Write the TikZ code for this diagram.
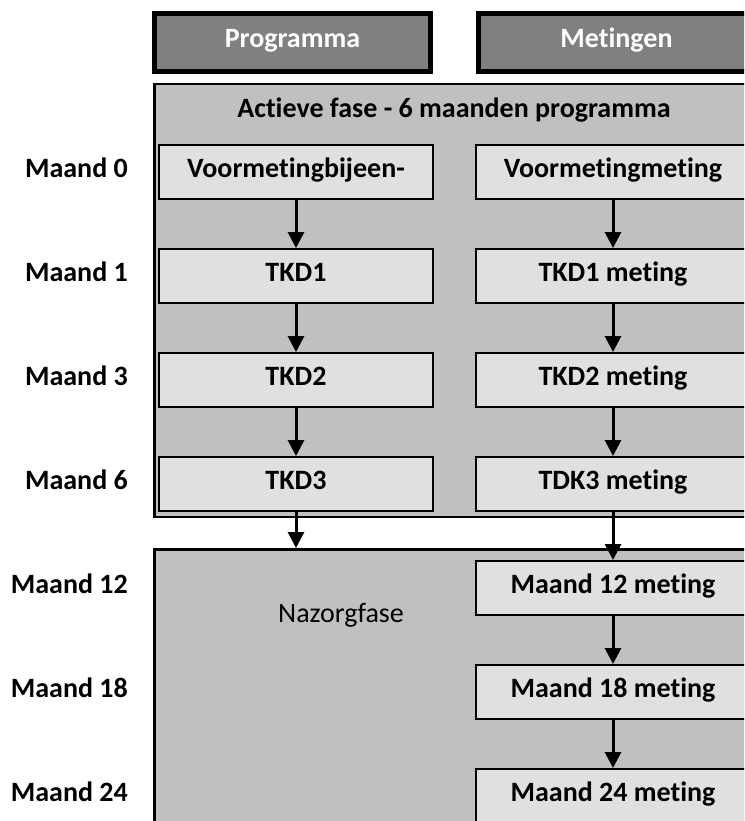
\documentclass[tikz,border=0pt]{standalone}
\usepackage{fontspec}
\setmainfont{Carlito}[Ligatures={NoCommon,NoRequired,NoContextual}]
\usetikzlibrary{arrows.meta}
\definecolor{hdrgray}{RGB}{128,128,128}
\definecolor{actgray}{RGB}{192,192,192}
\definecolor{boxgray}{RGB}{224,224,224}
\begin{document}
\begin{tikzpicture}[x=1pt,y=-1pt,
  txt/.style={font=\bfseries\fontsize{28}{32}\selectfont,text height=1.1em,text depth=0pt},
  hdr/.style={draw=black,line width=5pt,fill=hdrgray,text=white,txt,minimum width=276pt,minimum height=58pt,inner sep=0pt},
  phase/.style={draw=black,line width=2.5pt,fill=actgray,inner sep=0pt},
  stepbox/.style={draw=black,line width=2pt,fill=boxgray,txt,minimum width=274pt,minimum height=54pt,inner sep=0pt},
  lbl/.style={txt,anchor=east,inner sep=0pt},
  arr/.style={line width=3pt,-{Triangle[width=16pt,length=16pt]}}]
\useasboundingbox (0,0) rectangle (744,821);
\clip (0,0) rectangle (744,821);
% headers
\node[hdr] (hp) at (292.5,42.5) {Programma};
\node[hdr] (hm) at (616.5,42.5) {Metingen};
% phases
\node[phase,minimum width=600.5pt,minimum height=432.5pt] (act) at (454.5,300.5) {};
\node[txt,inner sep=0pt] (acttitle) at (454,112) {Actieve fase - 6 maanden programma};
\node[phase,minimum width=600.5pt,minimum height=349.5pt] (naz) at (454.5,724) {};
\node[txt,font=\fontsize{28}{32}\selectfont,inner sep=0pt] (naztitle) at (341,617) {Nazorgfase};
% month labels
\node[lbl] (l0) at (128,172) {Maand 0};
\node[lbl] (l1) at (128,276) {Maand 1};
\node[lbl] (l3) at (128,380) {Maand 3};
\node[lbl] (l6) at (128,484) {Maand 6};
\node[lbl] (l12) at (128,588) {Maand 12};
\node[lbl] (l18) at (128,692) {Maand 18};
\node[lbl] (l24) at (128,796) {Maand 24};
% programme column
\node[stepbox] (p0) at (296,172) {Voormetingbijeen-};
\node[stepbox] (p1) at (296,276) {TKD1};
\node[stepbox] (p2) at (296,380) {TKD2};
\node[stepbox] (p3) at (296,484) {TKD3};
% measurement column
\node[stepbox] (m0) at (613,172) {Voormetingmeting};
\node[stepbox] (m1) at (613,276) {TKD1 meting};
\node[stepbox] (m2) at (613,380) {TKD2 meting};
\node[stepbox] (m3) at (613,484) {TDK3 meting};
\node[stepbox] (m12) at (613,588) {Maand 12 meting};
\node[stepbox] (m18) at (613,692) {Maand 18 meting};
\node[stepbox] (m24) at (613,796) {Maand 24 meting};
% connectors
\draw[arr] (p0) -- (p1);
\draw[arr] (p1) -- (p2);
\draw[arr] (p2) -- (p3);
\draw[arr] (p3.south) -- (p3.south |- naz.north);
\draw[arr] (m0) -- (m1);
\draw[arr] (m1) -- (m2);
\draw[arr] (m2) -- (m3);
\draw[arr] (m3) -- (m12);
\draw[arr] (m12) -- (m18);
\draw[arr] (m18) -- (m24);
\end{tikzpicture}
\end{document}
